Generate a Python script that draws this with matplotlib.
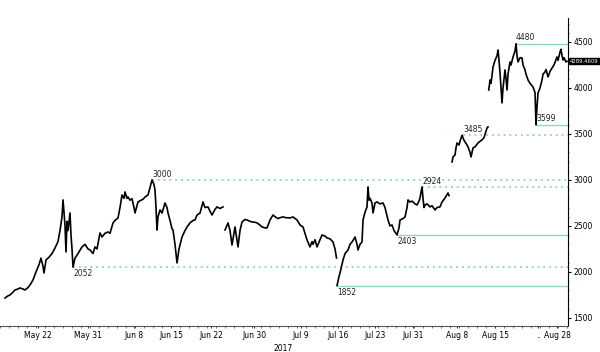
import numpy as np
import matplotlib
matplotlib.use('Agg')
import matplotlib.pyplot as plt
from matplotlib.ticker import MultipleLocator, FixedLocator

nan = np.nan

# position along the (compressed) trading timeline, and price; nan marks a data gap
t = [5, 8, 10, 13, 15, 18, 20, 23, 25, 28, 30, 33,
     36, 39, 41, 43, 44, 46, 49, 52, 55, 58, 60, 62, 63, 64, 65, 66, 67, 68, 70, 71, 72, 73,
     75, 78, 82, 85, 88, 90, 93, 95, 97, 100, 102, 105, 108, 110, 113, 115, 118, 120, 122,
     124, 125, 127, 128, 130, 132, 134, 135, 137, 138, 141, 143, 145, 148, 150, 152, 154,
     155, 156, 157, 158, 160, 162, 165, 167, 168, 170, 172, 173, 175, 177, 179, 182, 185,
     187, 190, 193, 195, 197, 200, 203, 205, 208, 210, 212, 215, 217, 220, 223, 224,
     225, 228, 230, 232, 235, 238, 240, 242, 245, 247, 250, 252, 255, 257, 260, 262, 265,
     267, 270, 273, 275, 278, 280, 283, 286, 290, 293, 297, 300, 303, 305, 307, 310, 312,
     313, 315, 317, 320, 322, 325, 327, 330, 333, 335, 336.5, 336.8,
     337, 339, 340, 342, 343, 345, 348, 350, 352, 354, 355, 357, 358, 360, 362, 363, 365,
     367, 368, 369, 370, 372, 373, 375, 377, 380, 383, 385, 388, 390, 392, 394, 397, 399,
     400, 403, 405, 407, 408, 410, 412, 415, 417, 419, 420, 422, 423, 424, 425, 427, 430,
     432, 435, 437, 440, 442, 445, 447, 448, 449, 450,
     452, 453, 455, 456, 457, 459, 460, 462, 464, 465, 467, 468, 470, 471, 473, 475, 478,
     480, 482, 484, 486, 487, 488, 488.5,
     488.7, 489, 490, 491, 493, 495, 497, 498, 499, 500, 501, 502, 503, 505, 506, 507, 508,
     510, 511, 513, 515, 516, 517, 518, 520, 522, 523, 525, 526, 528, 530, 533, 535, 536,
     537, 538, 540, 542, 543, 545, 546, 548, 550, 552, 554, 557, 558, 560, 561, 562, 563,
     564, 566, 567]
price = [1717, 1740, 1750, 1780, 1804, 1815, 1826, 1815, 1804, 1830, 1859, 1913,
         2000, 2080, 2150, 2060, 1989, 2130, 2160, 2200, 2260, 2330, 2450, 2600, 2783, 2650,
         2500, 2217, 2550, 2450, 2641, 2400, 2250, 2052,
         2150, 2200, 2272, 2300, 2250, 2239, 2200, 2272, 2250, 2424, 2380, 2420, 2435, 2420,
         2533, 2560, 2587, 2700, 2837,
         2800, 2870, 2800, 2815, 2780, 2797, 2700, 2641, 2720, 2761, 2780, 2790, 2815, 2837,
         2920, 3000, 2950,
         2891, 2700, 2456, 2600, 2674, 2640, 2750, 2700, 2641, 2560, 2470, 2456, 2300, 2098,
         2250, 2380, 2450,
         2489, 2533, 2560, 2565, 2619, 2640, 2761, 2700, 2707, 2660, 2619, 2680, 2707, 2690,
         2707, nan,
         2456, 2533, 2450, 2293, 2489, 2272, 2450, 2544, 2570, 2565, 2550, 2544, 2540, 2533,
         2510, 2489, 2480,
         2478, 2565, 2619, 2600, 2580, 2590, 2598, 2590, 2587, 2598, 2565, 2511, 2489, 2420,
         2348, 2272, 2330,
         2300, 2350, 2272, 2350, 2402, 2390, 2370, 2360, 2326, 2250, 2152, nan,
         1852, 1950, 1989, 2080, 2130, 2200, 2239, 2300, 2326, 2360, 2380, 2300, 2239, 2300,
         2326, 2565, 2650,
         2707, 2924, 2780, 2800, 2750, 2641, 2750, 2761, 2740, 2750, 2700, 2565, 2500, 2511,
         2450, 2403, 2480,
         2565, 2580, 2598, 2700, 2783, 2760, 2770, 2740, 2728, 2770, 2804, 2924, 2800, 2700,
         2728, 2740, 2707,
         2720, 2674, 2700, 2707, 2760, 2804, 2840, 2859, 2830, nan,
         3196, 3250, 3272, 3350, 3402, 3380, 3420, 3485, 3430, 3413, 3380, 3359, 3300, 3250,
         3348, 3360, 3402,
         3420, 3435, 3460, 3530, 3565, 3576, nan,
         3978, 4000, 4087, 4050, 4228, 4300, 4350, 4413, 4300, 4163, 4000, 3837, 4000, 4196,
         4100, 3978, 4150,
         4283, 4250, 4337, 4400, 4480, 4350, 4283, 4330, 4326, 4250, 4196, 4150, 4087, 4050,
         4011, 3950, 3599,
         3800, 3946, 4000, 4087, 4150, 4174, 4200, 4120, 4180, 4217, 4250, 4337, 4300, 4391,
         4420, 4350, 4304,
         4330, 4283, 4289]

# date labels on the compressed axis
tick_pos = [38, 88, 134, 171, 211, 254, 301, 338, 375, 413, 457, 495, 538, 557]
tick_lbl = ['May 22', 'May 31', 'Jun 8', 'Jun 15', 'Jun 22', 'Jun 30', 'Jul 9', 'Jul 16',
            'Jul 23', 'Jul 31', 'Aug 8', 'Aug 15', '..', 'Aug 28']

# support / resistance levels: value, start position, style, label placement
lvl_val = [4480, 3599, 3485, 3000, 2924, 2403, 2052, 1852]
lvl_start = [516, 536, 463, 152, 422, 397, 73, 337]
lvl_dotted = [False, False, True, True, True, False, True, False]
lvl_above = [True, True, True, True, True, False, False, False]

last_price = 4289.4609

fig = plt.figure(figsize=(6, 3.52), dpi=100)
ax = fig.add_axes([0, 0.074, 0.9467, 0.875])

green = '#8fd8bd'
for v, s, d, above in zip(lvl_val, lvl_start, lvl_dotted, lvl_above):
    if d:
        ax.plot([s, 568], [v, v], color='#6fd0a8', lw=1.1, ls=(0, (1.2, 2.6)), zorder=1)
    else:
        ax.plot([s, 568], [v, v], color=green, lw=1.0, zorder=1)
    if above:
        ax.text(s, v + 15, str(v), fontsize=5.5, ha='left', va='bottom', color='#222222')
    else:
        ax.text(s, v - 25, str(v), fontsize=5.5, ha='left', va='top', color='#222222')

ax.plot(t, price, color='black', lw=1.2, zorder=3)

ax.set_xlim(0, 568)
ax.set_ylim(1413, 4761)

for sp in ['left', 'top']:
    ax.spines[sp].set_visible(False)
ax.spines['right'].set_linewidth(0.8)
ax.spines['bottom'].set_linewidth(0.8)
ax.spines['bottom'].set_color('#555555')

ax.yaxis.tick_right()
ax.set_yticks([1500, 2000, 2500, 3000, 3500, 4000, 4500])
ax.yaxis.set_minor_locator(MultipleLocator(100))
ax.tick_params(axis='y', which='major', labelsize=5.5, length=2, width=0.8, pad=2)
ax.tick_params(axis='y', which='minor', length=1, width=0.5)

ax.xaxis.set_major_locator(FixedLocator(tick_pos))
ax.set_xticklabels(tick_lbl)
ax.xaxis.set_minor_locator(MultipleLocator(9))
ax.tick_params(axis='x', which='major', labelsize=5.5, length=1.5, width=0.6, pad=2)
ax.tick_params(axis='x', which='minor', length=1.5, width=0.6, color='#555555')

ax.text(283, 1213, '2017', fontsize=5.5, ha='center', va='top')

ax.annotate(f'{last_price:.4f}', xy=(1.0, last_price), xycoords=('axes fraction', 'data'),
            xytext=(1.2, 0), textcoords='offset points', fontsize=3.8, color='white',
            ha='left', va='center',
            bbox=dict(boxstyle='square,pad=0.1', fc='black', ec='black'),
            annotation_clip=False)

fig.savefig('out.png', dpi=100, facecolor='white')
